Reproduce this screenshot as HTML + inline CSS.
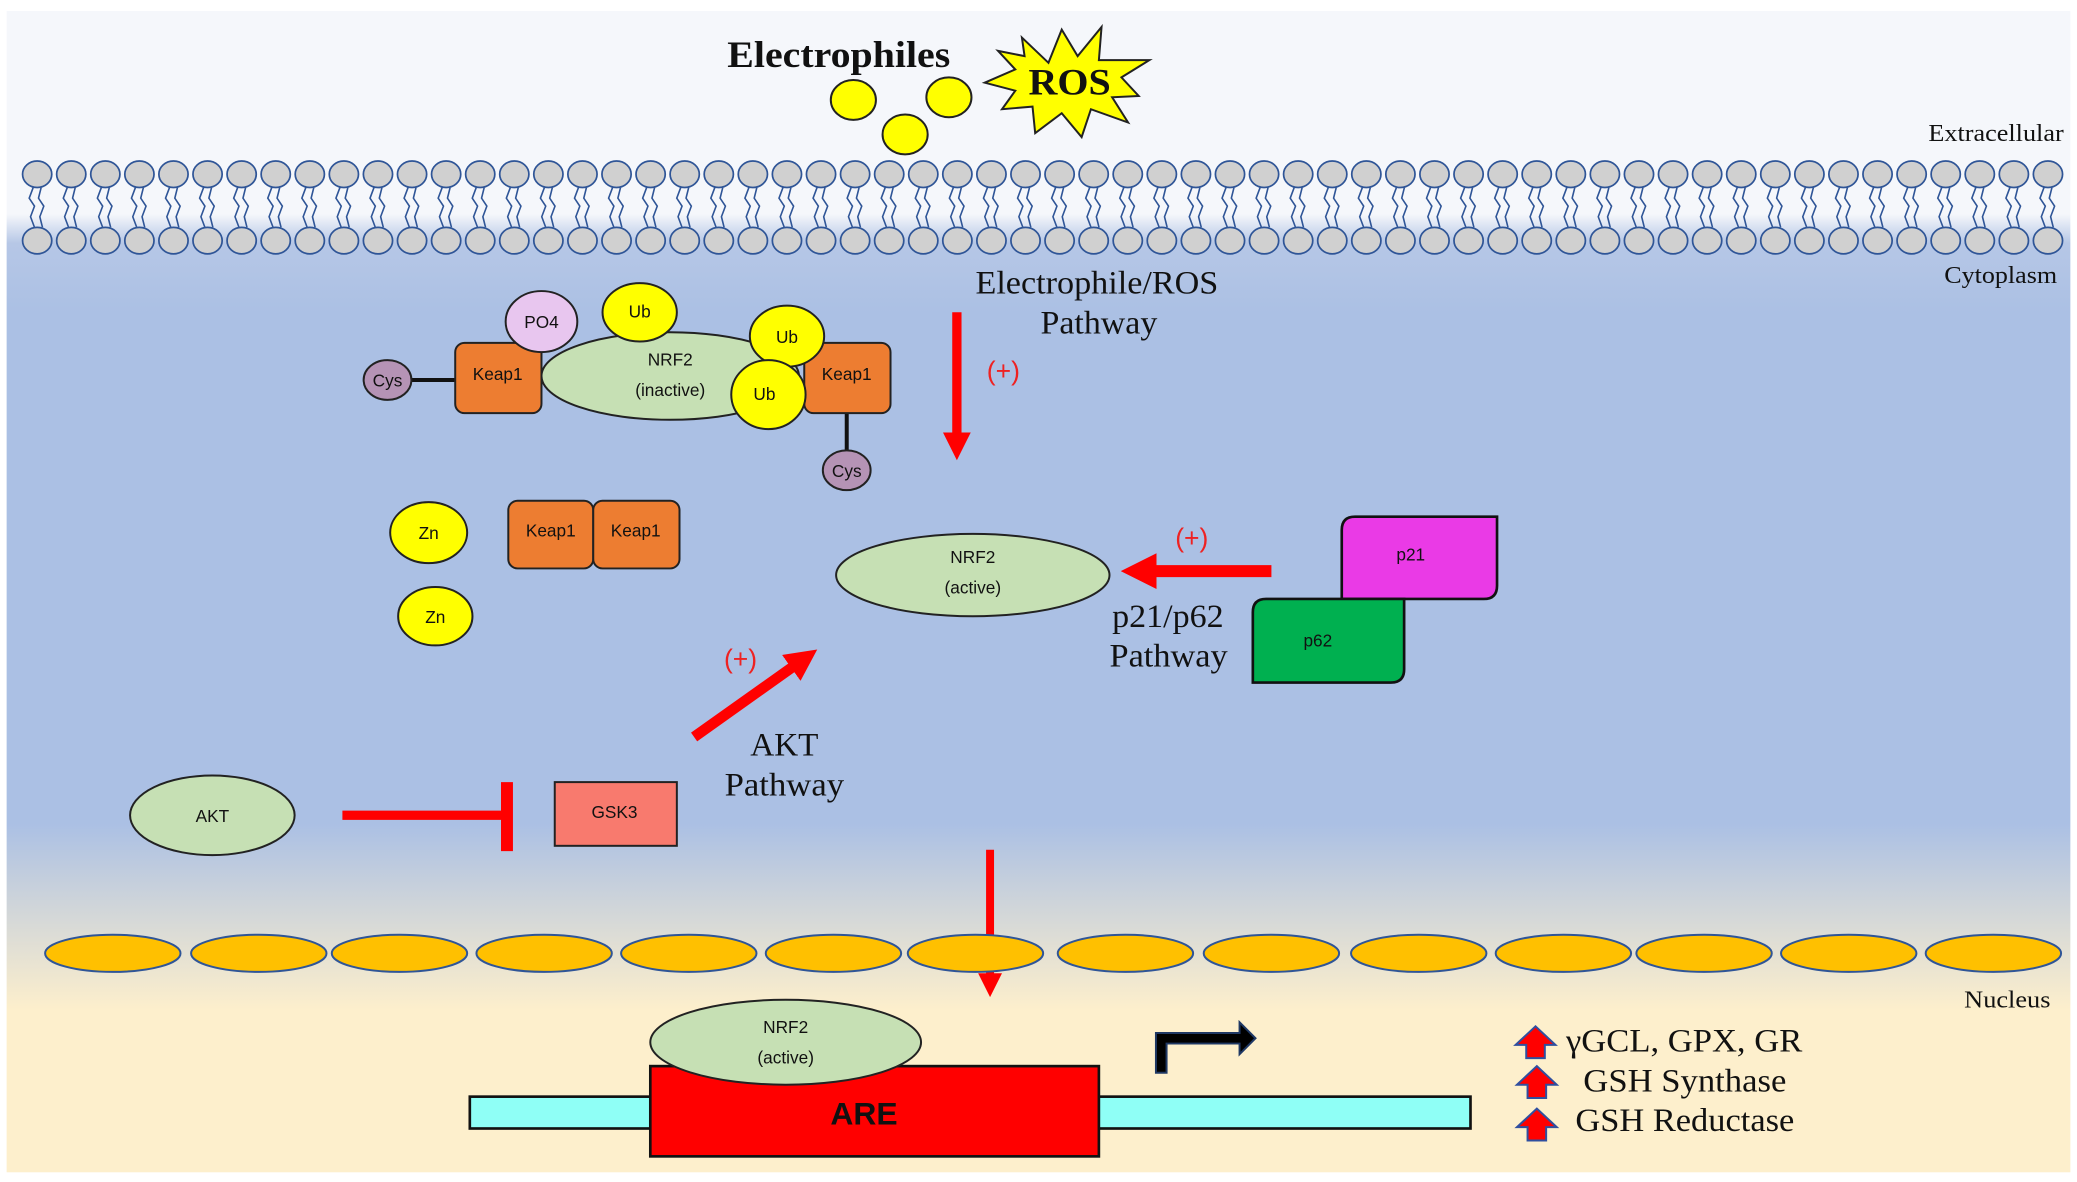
<!DOCTYPE html>
<html><head><meta charset="utf-8"><style>
html,body{margin:0;padding:0;background:#fff;}
svg{display:block}
.s{font-family:"Liberation Sans",sans-serif;font-size:13px;text-anchor:middle;fill:#111}
.t{font-family:"Liberation Serif",serif;fill:#111}
.p{font-family:"Liberation Sans",sans-serif;font-size:20px;fill:#e22;text-anchor:middle}
</style></head><body>
<svg id="sv" width="2077" height="1182" viewBox="0 0 1565 890" xmlns="http://www.w3.org/2000/svg">
<defs>
<linearGradient id="bg" x1="0" y1="0" x2="0" y2="1">
<stop offset="0" stop-color="#f5f7fb"/>
<stop offset="0.175" stop-color="#f5f7fb"/>
<stop offset="0.2" stop-color="#b6c7e6"/>
<stop offset="0.26" stop-color="#abc0e4"/>
<stop offset="0.70" stop-color="#abc0e4"/>
<stop offset="0.86" stop-color="#fdefcc"/>
<stop offset="1" stop-color="#fdefcc"/>
</linearGradient>
<marker id="ah" markerWidth="3" markerHeight="3" refX="1.5" refY="1.5" orient="auto" markerUnits="strokeWidth"><path d="M0,0 L3,1.5 L0,3 z" fill="#f00"/></marker>
</defs>
<rect x="5" y="8" width="1555" height="875" fill="url(#bg)"/>
<g id="mem"></g>
<text x="548" y="50" class="t" font-size="28" font-weight="bold" textLength="168" lengthAdjust="spacingAndGlyphs">Electrophiles</text>
<g fill="#ff0" stroke="#222" stroke-width="1.5">
<ellipse cx="643" cy="75" rx="17" ry="15"/><ellipse cx="715" cy="73" rx="17" ry="15"/><ellipse cx="682" cy="101" rx="17" ry="15"/>
</g>
<polygon points="770,28 790,47 800,22 812,42 830,20 828,45 866,45 845,58 858,72 838,73 850,92 822,82 815,103 800,85 780,100 778,80 755,82 765,68 742,62 765,52 752,38 772,42" fill="#ff0" stroke="#222" stroke-width="1.5"/>
<text x="775" y="71" class="t" font-size="28" font-weight="bold" textLength="62" lengthAdjust="spacingAndGlyphs">ROS</text>
<text x="1453" y="106" class="t" font-size="18" textLength="102" lengthAdjust="spacingAndGlyphs">Extracellular</text>
<text x="1465" y="213" class="t" font-size="18" textLength="85" lengthAdjust="spacingAndGlyphs">Cytoplasm</text>
<text x="735" y="221" class="t" font-size="25" textLength="183" lengthAdjust="spacingAndGlyphs">Electrophile/ROS</text>
<text x="784" y="251" class="t" font-size="25" textLength="88" lengthAdjust="spacingAndGlyphs">Pathway</text>
<!-- arrows -->
<line x1="721" y1="235" x2="721" y2="336" stroke="#f00" stroke-width="7" marker-end="url(#ah)"/>
<text x="756" y="286" class="p">(+)</text>
<line x1="958" y1="430" x2="858" y2="430" stroke="#f00" stroke-width="9" marker-end="url(#ah)"/>
<text x="898" y="412" class="p">(+)</text>
<line x1="523" y1="555" x2="606" y2="496" stroke="#f00" stroke-width="8" marker-end="url(#ah)"/>
<text x="558" y="503" class="p">(+)</text>
<line x1="746" y1="640" x2="746" y2="742" stroke="#f00" stroke-width="6" marker-end="url(#ah)"/>
<!-- complex -->
<line x1="292" y1="286" x2="345" y2="286" stroke="#111" stroke-width="3"/>
<line x1="638" y1="310" x2="638" y2="340" stroke="#111" stroke-width="3"/>
<rect x="343" y="258" width="65" height="53" rx="7" fill="#ed7d31" stroke="#222" stroke-width="1.5"/>
<rect x="606" y="258" width="65" height="53" rx="7" fill="#ed7d31" stroke="#222" stroke-width="1.5"/>
<ellipse cx="505" cy="283" rx="97" ry="33" fill="#c6e0b4" stroke="#222" stroke-width="1.5"/>
<ellipse cx="408" cy="242" rx="27" ry="23" fill="#e8c6ef" stroke="#222" stroke-width="1.5"/>
<ellipse cx="482" cy="235" rx="28" ry="22" fill="#ff0" stroke="#222" stroke-width="1.5"/>
<ellipse cx="593" cy="253" rx="28" ry="23" fill="#ff0" stroke="#222" stroke-width="1.5"/>
<ellipse cx="579" cy="297" rx="28" ry="26" fill="#ff0" stroke="#222" stroke-width="1.5"/>
<ellipse cx="292" cy="286" rx="18" ry="15" fill="#b593b5" stroke="#222" stroke-width="1.5"/>
<ellipse cx="638" cy="354" rx="18" ry="15" fill="#b593b5" stroke="#222" stroke-width="1.5"/>
<text x="375" y="286" class="s">Keap1</text><text x="638" y="286" class="s">Keap1</text>
<text x="505" y="275" class="s">NRF2</text><text x="505" y="298" class="s">(inactive)</text>
<text x="408" y="247" class="s">PO4</text><text x="482" y="239" class="s">Ub</text>
<text x="593" y="258" class="s">Ub</text><text x="576" y="301" class="s">Ub</text>
<text x="292" y="291" class="s" font-size="12">Cys</text><text x="638" y="359" class="s" font-size="12">Cys</text>
<!-- Zn & keap1 pair -->
<ellipse cx="323" cy="401" rx="29" ry="23" fill="#ff0" stroke="#222" stroke-width="1.5"/>
<ellipse cx="328" cy="464" rx="28" ry="22" fill="#ff0" stroke="#222" stroke-width="1.5"/>
<text x="323" y="406" class="s">Zn</text><text x="328" y="469" class="s">Zn</text>
<rect x="383" y="377" width="64" height="51" rx="7" fill="#ed7d31" stroke="#222" stroke-width="1.5"/>
<rect x="447" y="377" width="65" height="51" rx="7" fill="#ed7d31" stroke="#222" stroke-width="1.5"/>
<text x="415" y="404" class="s">Keap1</text><text x="479" y="404" class="s">Keap1</text>
<ellipse cx="733" cy="433" rx="103" ry="31" fill="#c6e0b4" stroke="#222" stroke-width="1.5"/>
<text x="733" y="424" class="s">NRF2</text><text x="733" y="447" class="s">(active)</text>
<path d="M1021,389 H1128 V441 Q1128,451 1118,451 H1011 V399 Q1011,389 1021,389 Z" fill="#ea3ae6" stroke="#111" stroke-width="2"/>
<path d="M954,451 H1058 V504 Q1058,514 1048,514 H944 V461 Q944,451 954,451 Z" fill="#00b050" stroke="#111" stroke-width="2"/>
<text x="1063" y="422" class="s">p21</text><text x="993" y="487" class="s">p62</text>
<text x="838" y="472" class="t" font-size="25" textLength="84" lengthAdjust="spacingAndGlyphs">p21/p62</text>
<text x="836" y="502" class="t" font-size="25" textLength="89" lengthAdjust="spacingAndGlyphs">Pathway</text>
<text x="591" y="569" class="t" font-size="25" text-anchor="middle">AKT</text>
<text x="546" y="599" class="t" font-size="25" textLength="90" lengthAdjust="spacingAndGlyphs">Pathway</text>
<ellipse cx="160" cy="614" rx="62" ry="30" fill="#c6e0b4" stroke="#222" stroke-width="1.5"/>
<text x="160" y="619" class="s">AKT</text>
<line x1="258" y1="614" x2="382" y2="614" stroke="#f00" stroke-width="7"/>
<line x1="382" y1="589" x2="382" y2="641" stroke="#f00" stroke-width="9"/>
<rect x="418" y="589" width="92" height="48" fill="#f87a6e" stroke="#222" stroke-width="1.5"/>
<text x="463" y="616" class="s">GSK3</text>
<g id="nuc"></g>
<text x="1480" y="759" class="t" font-size="18" textLength="65" lengthAdjust="spacingAndGlyphs">Nucleus</text>
<rect x="354" y="826" width="754" height="24" fill="#8ffff6" stroke="#111" stroke-width="2"/>
<rect x="490" y="803" width="338" height="68" fill="#f00" stroke="#111" stroke-width="2"/>
<text x="651" y="847" font-family="Liberation Sans,sans-serif" font-weight="bold" font-size="24" text-anchor="middle" fill="#111">ARE</text>
<ellipse cx="592" cy="785" rx="102" ry="32" fill="#c6e0b4" stroke="#222" stroke-width="1.5"/>
<text x="592" y="778" class="s">NRF2</text><text x="592" y="801" class="s">(active)</text>
<path d="M871,808 V778 H934 V770 L946,782 L934,794 V786 H879 V808 Z" fill="#000" stroke="#1f3864" stroke-width="1.5"/>
<g fill="#f00" stroke="#2f4f9f" stroke-width="1.5">
<path d="M1150,797 V787 H1142 L1157,773 L1172,787 H1164 V797 Z"/>
<path d="M1151,827 V817 H1143 L1158,803 L1173,817 H1165 V827 Z"/>
<path d="M1151,859 V849 H1143 L1158,835 L1173,849 H1165 V859 Z"/>
</g>
<text x="1180" y="792" class="t" font-size="25" textLength="178" lengthAdjust="spacingAndGlyphs">γGCL, GPX, GR</text>
<text x="1193" y="822" class="t" font-size="25" textLength="153" lengthAdjust="spacingAndGlyphs">GSH Synthase</text>
<text x="1187" y="852" class="t" font-size="25" textLength="165" lengthAdjust="spacingAndGlyphs">GSH Reductase</text>
</svg>
<script>
var m=document.getElementById("mem"),h="";
for(var i=0;i<60;i++){var x=28+i*25.68;
h+='<path d="M'+(x-3)+',141 l-3,8 l4,6 l-3,8 l3,8 M'+(x+3)+',141 l-2,8 l4,6 l-3,8 l2,8" fill="none" stroke="#2f5597" stroke-width="1.2"/>';
h+='<ellipse cx="'+x+'" cy="131" rx="11" ry="10" fill="#d0d0d0" stroke="#2f5597" stroke-width="1.3"/>';
h+='<ellipse cx="'+x+'" cy="181" rx="11" ry="10" fill="#d0d0d0" stroke="#2f5597" stroke-width="1.3"/>';}
m.innerHTML=h;
var n=document.getElementById("nuc"),c=[85,195,301,410,519,628,735,848,958,1069,1178,1284,1393,1502],g="";
c.forEach(function(x){g+='<ellipse cx="'+x+'" cy="718" rx="51" ry="14" fill="#ffc000" stroke="#2f5597" stroke-width="1.5"/>';});
n.innerHTML=g;
</script>
</body></html>
